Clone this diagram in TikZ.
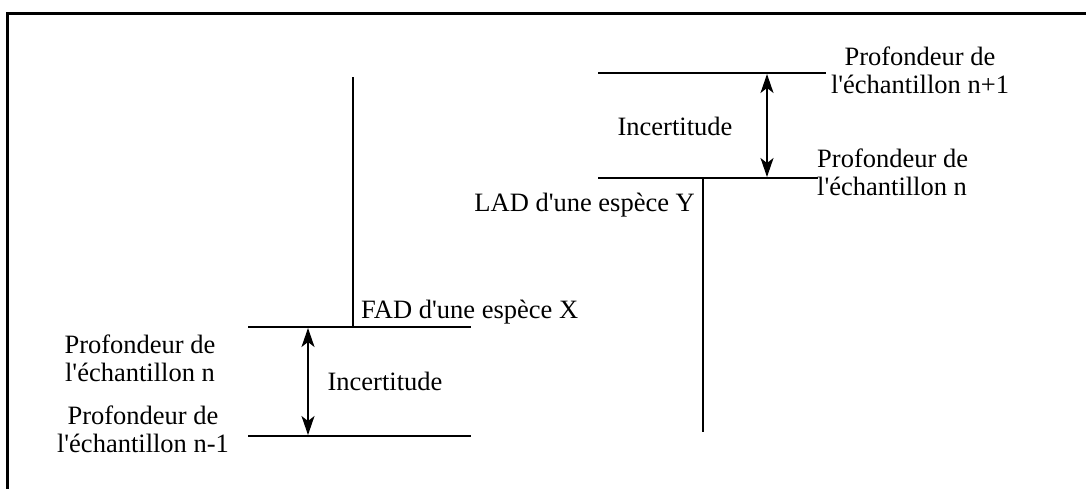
\documentclass[tikz,border=0pt]{standalone}
\usepackage{fontspec}
\setmainfont{Liberation Serif}[Ligatures=TeXOff]
\usetikzlibrary{arrows.meta}
\begin{document}
\begin{tikzpicture}[x=1pt,y=-1pt,
  lbl/.style={inner sep=0pt,font=\fontsize{26.5}{28}\selectfont,align=center},
  lvl/.style={line width=1.8pt},
  dbl/.style={line width=1.6pt,{Stealth[length=19pt,width=13pt,inset=5pt]}-{Stealth[length=19pt,width=13pt,inset=5pt]}},
  frame/.style={line width=3pt}]
\useasboundingbox (0,0) rectangle (1086,488);
% frame (only left and top edges visible)
\coordinate (f1) at (7,492);
\coordinate (f2) at (7,13);
\coordinate (f3) at (1092,13);
\draw[frame] (f1) -- (f2) -- (f3);
% left group
\coordinate (la) at (248,327); \coordinate (lb) at (471,327);
\coordinate (lc) at (248,436); \coordinate (ld) at (471,436);
\draw[lvl] (la) -- (lb);
\draw[lvl] (lc) -- (ld);
\coordinate (ftop) at (353,77); \coordinate (fbot) at (353,327);
\draw[lvl] (ftop) -- (fbot);
\coordinate (a1) at (308,328); \coordinate (a2) at (308,435);
\draw[dbl] (a1) -- (a2);
\node[lbl,anchor=west] (fad) at (361,312) {FAD d'une espèce X};
\node[lbl] (inc1) at (385,381) {Incertitude};
\node[lbl] (pn) at (140,358) {Profondeur de\\l'échantillon n};
\node[lbl] (pnm) at (143,429) {Profondeur de\\l'échantillon n-1};
% right group
\coordinate (ra) at (598,73); \coordinate (rb) at (826,73);
\coordinate (rc) at (598,178); \coordinate (rd) at (818,178);
\draw[lvl] (ra) -- (rb);
\draw[lvl] (rc) -- (rd);
\coordinate (ltop) at (703,178); \coordinate (lbot) at (703,432);
\draw[lvl] (ltop) -- (lbot);
\coordinate (b1) at (767,74); \coordinate (b2) at (767,177);
\draw[dbl] (b1) -- (b2);
\node[lbl] (inc2) at (675,126) {Incertitude};
\node[lbl,anchor=east] (lad) at (695,205) {LAD d'une espèce Y};
\node[lbl] (pnp) at (920,70) {Profondeur de\\l'échantillon n+1};
\node[lbl,align=left,anchor=west] (pn2) at (817,172) {Profondeur de\\l'échantillon n};
\end{tikzpicture}
\end{document}
